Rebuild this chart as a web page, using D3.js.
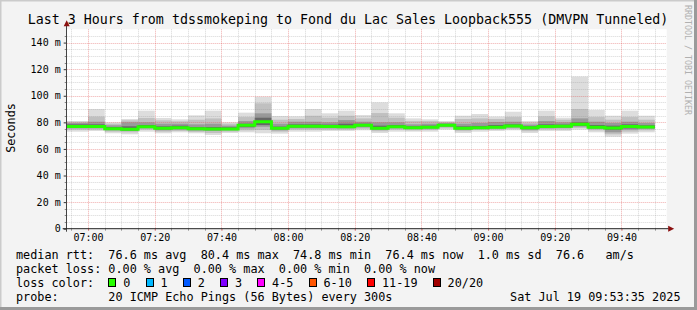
<!DOCTYPE html>
<html>
<head>
<meta charset="utf-8">
<script src="https://cdn.jsdelivr.net/npm/d3@7"></script>
<style>
    body { margin: 0; background: #f3f3f3; }
    svg { display: block; font-family: "DejaVu Sans Mono", monospace; }
</style>
</head>
<body>
<div class="visholder"></div>
<script>
// values
const startTime = "06:53:35",
    endTime = "09:53:35";
const barEnds = ["07:00", "07:05", "07:10", "07:15", "07:20", "07:25", "07:30", "07:35", "07:40", "07:45", "07:50", "07:55",
    "08:00", "08:05", "08:10", "08:15", "08:20", "08:25", "08:30", "08:35", "08:40", "08:45", "08:50", "08:55",
    "09:00", "09:05", "09:10", "09:15", "09:20", "09:25", "09:30", "09:35", "09:40", "09:45", "09:50"];
const median = [76.8, 76.9, 75.2, 74.8, 76.7, 75.6, 75.9, 75.2, 75.0, 75.0, 77.8, 80.4,
    75.5, 77.0, 77.0, 76.9, 76.7, 77.9, 75.6, 76.7, 75.9, 76.3, 77.9, 75.6,
    75.9, 76.3, 77.3, 75.9, 76.9, 77.0, 78.5, 76.4, 75.8, 76.9, 76.5];
// smoke per bar: [min, lo2, lo3, lo4, hi4, hi3, hi2, max] in ms
const smoke = [
    [73, 74.5, 75.5, 76, 78.5, 79.5, 80.5, 81],
    [73.5, 74.5, 75.5, 76, 78.5, 80.5, 84.3, 90],
    [71.8, 73, 74, 74.5, 76.5, 77.8, 79, 80],
    [71, 72.5, 73.5, 74, 77, 80, 81.5, 82.5],
    [73, 74.5, 75.5, 76, 78, 80, 83.3, 88.8],
    [71.8, 73, 74, 74.8, 77, 79, 81.5, 83.3],
    [72.5, 73.5, 74.5, 75.2, 77.5, 79, 80.8, 82.3],
    [71.8, 72.8, 73.8, 74.5, 76.5, 78.5, 82, 85.3],
    [70.5, 72, 73.5, 74.3, 76.5, 79, 83, 88.8],
    [72, 73, 74, 74.5, 76.3, 77.5, 79, 80],
    [72.5, 74, 75.5, 76.5, 79, 81, 84, 87.3],
    [71.8, 74.3, 76.7, 78, 83.5, 86.8, 94.3, 99.3],
    [71.5, 73, 74, 74.8, 76.8, 79, 82, 84.8],
    [73, 74.5, 75.5, 76.2, 78.5, 80.5, 82.5, 84.5],
    [73, 74.5, 75.5, 76.2, 78.5, 80.5, 85, 90],
    [73.5, 74.5, 75.5, 76.2, 78.3, 80, 83.5, 86.8],
    [73.5, 74.5, 75.5, 76, 79, 81.7, 85, 88.8],
    [74, 75.2, 76.2, 77, 79, 80.5, 83, 85.5],
    [72, 73.3, 74.3, 75, 77.5, 80, 87, 95],
    [73, 74.5, 75.5, 76, 78, 80, 83.5, 86.8],
    [73, 74, 75, 75.4, 77, 78.5, 81, 83],
    [73, 74.2, 75.2, 75.8, 77.5, 79, 81, 82.3],
    [74.5, 75.5, 76.5, 77.2, 78.8, 79.5, 80.3, 81],
    [72, 73.3, 74.3, 75, 77, 79, 82.5, 85],
    [73, 74.3, 75, 75.5, 77.3, 79.5, 83, 86.3],
    [73.5, 74.5, 75.3, 75.8, 78, 80.3, 82.5, 84.3],
    [74, 75, 76, 76.7, 78.5, 80.5, 84, 88],
    [72, 73.3, 74.3, 75.2, 77, 78.3, 79.8, 81],
    [73.5, 74.7, 75.5, 76.2, 78.5, 81, 84.5, 88.8],
    [73.5, 74.7, 75.7, 76.3, 78.3, 80, 82, 83.5],
    [74.5, 75.8, 76.8, 77.5, 80, 83, 90, 114.4],
    [72.5, 74, 75, 75.7, 78, 80.5, 84, 89.3],
    [69.2, 71, 72.5, 74.5, 77.5, 79.5, 82, 85],
    [71.5, 73, 74.5, 75.5, 78.5, 80.5, 84, 88.8],
    [72.5, 74, 75, 75.8, 77.8, 79.5, 82, 85]
];
const yTicks = [0, 20, 40, 60, 80, 100, 120, 140];
const lossLabels = ["0", "1", "2", "3", "4-5", "6-10", "11-19", "20/20"];
const lossColors = ["#26ff00", "#00b8ff", "#0059ff", "#7e00ff", "#ff00ff", "#ff5500", "#ff0000", "#a10000"];
const titleText = "Last 3 Hours from tdssmokeping to Fond du Lac Sales Loopback555 (DMVPN Tunneled)";
const rttLine = "median rtt:  76.6 ms avg  80.4 ms max  74.8 ms min  76.4 ms now  1.0 ms sd  76.6   am/s";
const lossLine = "packet loss: 0.00 % avg  0.00 % max  0.00 % min  0.00 % now";
const probeLine = "probe:       20 ICMP Echo Pings (56 Bytes) every 300s";
const stampText = "Sat Jul 19 09:53:35 2025";

// layout
const W = 697, H = 310,
    pLeft = 66.7, pRight = 666.7, pTop = 29.3, pBottom = 228.7,
    charW = 7.1, legX = 16;
const smokeColors = ["#dddddd", "#c0c0c0", "#999999", "#676767"];

const parseHM = d3.timeParse("%H:%M"),
    parseHMS = d3.timeParse("%H:%M:%S");

let svg = d3.select(".visholder").append("svg")
    .attr("width", W).attr("height", H);

// frame
svg.append("rect").attr("width", W).attr("height", H).attr("fill", "#f3f3f3");
svg.append("path").attr("d", `M0,${H}V0H${W}`).attr("fill", "none").attr("stroke", "#cbcbcb").attr("stroke-width", 3);
svg.append("path").attr("d", `M0,${H - 1.5}H${W - 1.5}V0`).attr("fill", "none").attr("stroke", "#9a9a9a").attr("stroke-width", 3);

// scales
let x = d3.scaleTime().domain([parseHMS(startTime), parseHMS(endTime)]).range([pLeft, pRight]);
let y = d3.scaleLinear().domain([0, 150]).range([pBottom, pTop]);

// canvas
svg.append("rect").attr("x", pLeft).attr("y", pTop)
    .attr("width", pRight - pLeft).attr("height", pBottom - pTop).attr("fill", "#ffffff");

// smoke
let bars = barEnds.map((t, i) => ({
    x0: i === 0 ? x.domain()[0] : parseHM(barEnds[i - 1]),
    x1: parseHM(t),
    s: smoke[i],
    m: median[i]
}));
smokeColors.forEach((c, lvl) => {
    svg.append("g").selectAll("rect").data(bars).enter().append("rect")
        .attr("x", d => x(d.x0))
        .attr("width", d => x(d.x1) - x(d.x0))
        .attr("y", d => y(d.s[7 - lvl]))
        .attr("height", d => y(d.s[lvl]) - y(d.s[7 - lvl]))
        .attr("fill", c);
});

// grid
let grid = svg.append("g");
let minorX = x.ticks(d3.timeMinute.every(5)).filter(t => t.getMinutes() % 20 !== 0);
let majorX = x.ticks(d3.timeMinute.every(20));
let minorY = d3.range(5, 150, 5).filter(v => v % 20 !== 0);
let majorY = yTicks.filter(v => v > 0);
grid.selectAll(".mx").data(minorX).enter().append("line")
    .attr("x1", d => Math.round(x(d)) + 0.5).attr("x2", d => Math.round(x(d)) + 0.5)
    .attr("y1", pTop).attr("y2", pBottom)
    .attr("stroke", "rgba(140,140,140,0.35)").attr("stroke-dasharray", "1,1");
grid.selectAll(".my").data(minorY).enter().append("line")
    .attr("x1", pLeft).attr("x2", pRight)
    .attr("y1", d => Math.round(y(d)) + 0.5).attr("y2", d => Math.round(y(d)) + 0.5)
    .attr("stroke", "rgba(140,140,140,0.35)").attr("stroke-dasharray", "1,1");
grid.selectAll(".Mx").data(majorX).enter().append("line")
    .attr("x1", d => Math.round(x(d)) + 0.5).attr("x2", d => Math.round(x(d)) + 0.5)
    .attr("y1", pTop).attr("y2", pBottom)
    .attr("stroke", "rgba(222,70,70,0.45)").attr("stroke-dasharray", "1,1");
grid.selectAll(".My").data(majorY).enter().append("line")
    .attr("x1", pLeft).attr("x2", pRight)
    .attr("y1", d => Math.round(y(d)) + 0.5).attr("y2", d => Math.round(y(d)) + 0.5)
    .attr("stroke", "rgba(222,70,70,0.45)").attr("stroke-dasharray", "1,1");

// median line (step)
let stepPts = [];
bars.forEach(d => { stepPts.push([x(d.x0), y(d.m)]); stepPts.push([x(d.x1), y(d.m)]); });
svg.append("path").attr("d", d3.line()(stepPts))
    .attr("fill", "none").attr("stroke", lossColors[0]).attr("stroke-width", 3);

// y axis
let yAxis = d3.axisLeft(y).tickValues(yTicks).tickSize(3).tickPadding(3)
    .tickFormat(d => d === 0 ? "0" : d + " m");
let yg = svg.append("g").attr("transform", `translate(${pLeft},0)`).call(yAxis);
yg.select(".domain").remove();
yg.selectAll("text").style("font-family", "DejaVu Sans Mono").style("font-size", "10px").attr("fill", "#000");
yg.selectAll("line").attr("stroke", "#333");
svg.append("g").selectAll("line").data(minorY).enter().append("line")
    .attr("x1", pLeft - 2).attr("x2", pLeft)
    .attr("y1", d => Math.round(y(d)) + 0.5).attr("y2", d => Math.round(y(d)) + 0.5)
    .attr("stroke", "#888");

// x axis
let xAxis = d3.axisBottom(x).ticks(d3.timeMinute.every(20)).tickFormat(d3.timeFormat("%H:%M"))
    .tickSize(2).tickPadding(3);
let xg = svg.append("g").attr("transform", `translate(0,${pBottom})`).call(xAxis);
xg.select(".domain").remove();
xg.selectAll("text").style("font-family", "DejaVu Sans Mono").style("font-size", "10px").attr("fill", "#000");
xg.selectAll("line").attr("stroke", "#d06060");
svg.append("g").selectAll("line").data(minorX).enter().append("line")
    .attr("x1", d => Math.round(x(d)) + 0.5).attr("x2", d => Math.round(x(d)) + 0.5)
    .attr("y1", pBottom).attr("y2", pBottom + 2)
    .attr("stroke", "#999");

// axis lines + arrows
svg.append("line").attr("x1", pLeft - 0.2).attr("x2", pLeft - 0.2).attr("y1", pBottom + 3).attr("y2", pTop - 4)
    .attr("stroke", "#444").attr("stroke-width", 1);
svg.append("line").attr("x1", pLeft - 4).attr("x2", pRight + 2).attr("y1", pBottom).attr("y2", pBottom)
    .attr("stroke", "#222").attr("stroke-width", 1);
svg.append("path").attr("d", `M${pRight + 1.5},${pBottom - 3}L${pRight + 7.5},${pBottom}L${pRight + 1.5},${pBottom + 3}Z`)
    .attr("fill", "#8b1010");
svg.append("path").attr("d", `M${pLeft - 3},${pTop - 3}L${pLeft},${pTop - 9}L${pLeft + 3},${pTop - 3}Z`)
    .attr("fill", "#8b1010");

// title and labels
svg.append("text").text(titleText)
    .attr("x", 348).attr("y", 24).attr("text-anchor", "middle")
    .style("font-size", "13.3px").attr("fill", "#000");
svg.append("text").text("Seconds")
    .attr("transform", "translate(15,128) rotate(-90)").attr("text-anchor", "middle")
    .style("font-size", "11.8px").attr("fill", "#000");
svg.append("text").text("RRDTOOL / TOBI OETIKER")
    .attr("transform", "translate(685,5) rotate(90)")
    .style("font-size", "8.3px").attr("fill", "#b0b0b0");

// legend
let leg = svg.append("g").style("font-size", "11.8px").attr("fill", "#000");
leg.append("text").text(rttLine).attr("x", legX).attr("y", 258.5).style("white-space", "pre");
leg.append("text").text(lossLine).attr("x", legX).attr("y", 272.5).style("white-space", "pre");
leg.append("text").text("loss color:").attr("x", legX).attr("y", 286.5);
leg.append("text").text(probeLine).attr("x", legX).attr("y", 300.5).style("white-space", "pre");
leg.append("text").text(stampText).attr("x", 680.5).attr("y", 300.5).attr("text-anchor", "end");

let bx = legX + 13 * charW, boxPos = [];
lossLabels.forEach((l, i) => {
    boxPos.push(bx);
    bx += 37.2 + (l.length - 1) * charW;
});
leg.selectAll(".box").data(lossLabels).enter().append("rect")
    .attr("x", (d, i) => Math.round(boxPos[i]) + 0.5).attr("y", 278.5)
    .attr("width", 7).attr("height", 8)
    .attr("fill", (d, i) => lossColors[i]).attr("stroke", "#000");
leg.selectAll(".lbl").data(lossLabels).enter().append("text")
    .text(d => d)
    .attr("x", (d, i) => boxPos[i] + 15).attr("y", 286.5);
</script>
</body>
</html>
